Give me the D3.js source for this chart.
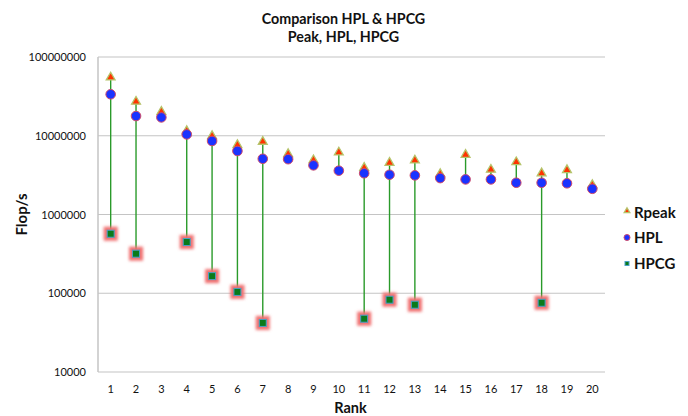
<!DOCTYPE html>
<html lang="en">
    <head>
        <meta charset="utf-8">
        <title>Comparison HPL & HPCG</title>
        <script type="text/javascript" src="https://cdn.jsdelivr.net/npm/d3@7"></script>
        <style type="text/css">
            body { margin: 0; background: #fff; }
            text { font-family: Lato, "Open Sans", sans-serif; fill: #111; }
        </style>
    </head>

    <body>
        <script type="text/javascript">
            // Values in GFlop/s (null = no HPCG result)
            var ranks = [1, 2, 3, 4, 5, 6, 7, 8, 9, 10, 11, 12, 13, 14, 15, 16, 17, 18, 19, 20];
            var rpeak = [55200000, 27100000, 20200000, 11500000, 9930000, 7640000, 8400000, 5870000, 4910000, 6150000,
                         3930000, 4540000, 4870000, 3270000, 5740000, 3720000, 4630000, 3340000, 3670000, 2370000];
            var hpl   = [33600000, 17800000, 17100000, 10400000, 8580000, 6400000, 5100000, 5040000, 4210000, 3600000,
                         3340000, 3200000, 3140000, 2900000, 2790000, 2790000, 2530000, 2530000, 2490000, 2120000];
            var hpcg  = [570000, 318000, null, 447000, 165000, 104000, 42000, null, null, null,
                         47500, 82800, 71500, null, null, null, null, 75700, null, null];
            var yTicks = [10000, 100000, 1000000, 10000000, 100000000];

            var w = 688;
            var h = 416;
            // plot area edges (note: "top" is reserved on window, so use a margin object)
            var m = { left: 98, right: 605, top: 57, bottom: 372 };

            var svg = d3.select("body")
                        .append("svg")
                        .attr("width", w)
                        .attr("height", h);

            var x = d3.scaleBand().domain(ranks).range([m.left, m.right]);
            var y = d3.scaleLog().domain([10000, 100000000]).range([m.bottom, m.top]);

            // Glow filter for the HPCG squares
            var defs = svg.append("defs");
            defs.append("filter")
                .attr("id", "glow")
                .attr("x", "-100%").attr("y", "-100%")
                .attr("width", "300%").attr("height", "300%")
                .append("feGaussianBlur")
                .attr("stdDeviation", 1.6);

            // Gridlines
            svg.selectAll("line.grid")
                .data(yTicks)
                .enter()
                .append("line")
                .attr("class", "grid")
                .attr("x1", m.left)
                .attr("x2", m.right)
                .attr("y1", function(d) { return y(d); })
                .attr("y2", function(d) { return y(d); })
                .attr("stroke", "#c4c4c4")
                .attr("stroke-width", 1.2);

            // Left axis line
            svg.append("line")
                .attr("x1", m.left).attr("x2", m.left)
                .attr("y1", m.top).attr("y2", m.bottom)
                .attr("stroke", "#c4c4c4")
                .attr("stroke-width", 1.5);

            // Y tick labels
            svg.selectAll("text.ytick")
                .data(yTicks)
                .enter()
                .append("text")
                .attr("class", "ytick")
                .attr("x", m.left - 12)
                .attr("y", function(d) { return y(d) + 4; })
                .attr("text-anchor", "end")
                .attr("font-size", "11px")
                .text(function(d) { return d; });

            // X tick labels
            svg.selectAll("text.xtick")
                .data(ranks)
                .enter()
                .append("text")
                .attr("class", "xtick")
                .attr("x", function(d) { return x(d) + x.bandwidth() / 2; })
                .attr("y", 393)
                .attr("text-anchor", "middle")
                .attr("font-size", "11px")
                .text(function(d) { return d; });

            // High-low lines: from Rpeak down to the lowest value
            svg.selectAll("line.hilo")
                .data(ranks)
                .enter()
                .append("line")
                .attr("class", "hilo")
                .attr("x1", function(d) { return x(d) + x.bandwidth() / 2; })
                .attr("x2", function(d) { return x(d) + x.bandwidth() / 2; })
                .attr("y1", function(d, i) { return y(rpeak[i]); })
                .attr("y2", function(d, i) { return y(hpcg[i] !== null ? hpcg[i] : hpl[i]); })
                .attr("stroke", "#2a9a2a")
                .attr("stroke-width", 1.4);

            var cx = function(i) { return x(ranks[i]) + x.bandwidth() / 2; };

            function drawTriangle(g, px, py, size) {
                g.append("path")
                    .attr("d", d3.symbol().type(d3.symbolTriangle).size(size))
                    .attr("transform", "translate(" + px + "," + py + ")")
                    .attr("fill", "#ff3300")
                    .attr("stroke", "#b5c46a")
                    .attr("stroke-width", 1.3);
            }
            function drawCircle(g, px, py, r) {
                g.append("circle")
                    .attr("cx", px).attr("cy", py).attr("r", r)
                    .attr("fill", "#1a33ff")
                    .attr("stroke", "#d04a6a")
                    .attr("stroke-width", 1);
            }
            function drawSquare(g, px, py, s, glow) {
                if (glow) {
                    g.append("rect")
                        .attr("x", px - 7).attr("y", py - 7)
                        .attr("width", 14).attr("height", 14)
                        .attr("fill", "#f07070")
                        .attr("filter", "url(#glow)");
                }
                g.append("rect")
                    .attr("x", px - s / 2).attr("y", py - s / 2)
                    .attr("width", s).attr("height", s)
                    .attr("fill", "#0a7a1a")
                    .attr("stroke", "#4aa0c8")
                    .attr("stroke-width", 1);
            }

            var marks = svg.append("g");
            hpcg.forEach(function(d, i) {
                if (d !== null) drawSquare(marks, cx(i), y(d), 7, true);
            });
            rpeak.forEach(function(d, i) { drawTriangle(marks, cx(i), y(d), 34); });
            hpl.forEach(function(d, i) { drawCircle(marks, cx(i), y(d), 4.8); });

            // Legend
            var legend = svg.append("g");
            drawTriangle(legend, 627, 211, 14);
            drawCircle(legend, 627, 237.5, 3);
            drawSquare(legend, 627, 263.5, 4, false);
            legend.selectAll("text")
                .data(["Rpeak", "HPL", "HPCG"])
                .enter()
                .append("text")
                .attr("x", 634)
                .attr("y", function(d, i) { return 217.5 + i * 25.5; })
                .attr("font-size", "15px")
                .attr("font-weight", "bold")
                .text(function(d) { return d; });

            // Titles (centred a little left of the plot centre, as in the original)
            var mid = (m.left + m.right) / 2;
            svg.append("text")
                .attr("x", mid - 8)
                .attr("y", 24)
                .attr("text-anchor", "middle")
                .attr("font-size", "14.3px")
                .attr("font-weight", "bold")
                .text("Comparison HPL & HPCG");
            svg.append("text")
                .attr("x", mid - 8)
                .attr("y", 42)
                .attr("text-anchor", "middle")
                .attr("font-size", "14.3px")
                .attr("font-weight", "bold")
                .text("Peak, HPL, HPCG");

            svg.append("text")
                .attr("x", mid - 1)
                .attr("y", 413)
                .attr("text-anchor", "middle")
                .attr("font-size", "14.5px")
                .attr("font-weight", "bold")
                .text("Rank");

            svg.append("text")
                .attr("transform", "translate(27," + ((m.top + m.bottom) / 2) + ") rotate(-90)")
                .attr("text-anchor", "middle")
                .attr("font-size", "15px")
                .attr("font-weight", "bold")
                .text("Flop/s");
        </script>
    </body>
</html>
